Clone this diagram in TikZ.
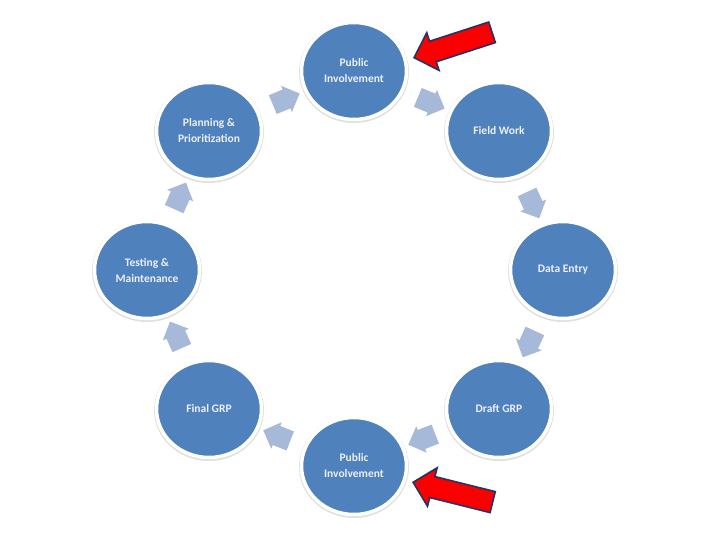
\documentclass[tikz,border=0pt]{standalone}
\usepackage{fontspec}
\setmainfont{Carlito}
\usepackage{xcolor}
\usetikzlibrary{calc,shapes.geometric,shapes.arrows}
\definecolor{stageblue}{RGB}{79,129,189}
\definecolor{stagetext}{RGB}{236,240,247}
\definecolor{flowgray}{RGB}{167,185,216}
\definecolor{alertred}{RGB}{250,0,0}
\definecolor{alertnavy}{RGB}{38,52,96}
\tikzset{
  stage/.style={ellipse,fill=stageblue,draw=white,line width=3.5pt,
    minimum width=105pt,minimum height=97pt,inner sep=0pt,align=center,
    text=stagetext,font=\fontsize{11.5}{16}\selectfont\bfseries,
    preaction={draw=black!12,line width=5pt,transform canvas={yshift=-1pt}}},
  flow/.style={single arrow,fill=flowgray,draw=none,inner xsep=0pt,
    inner ysep=10pt,minimum height=29pt,single arrow head extend=4pt},
  pointer/.style={single arrow,fill=alertred,draw=alertnavy,line width=1.6pt,
    inner xsep=0pt,inner ysep=10pt,minimum height=82pt,
    single arrow head extend=9pt}
}
\begin{document}
\begin{tikzpicture}[x=1pt,y=-1pt]
  \useasboundingbox[fill=white] (0,0) rectangle (720,540);
  % the eight stages of the cycle
  \node[stage] (pubtop) at (354,71) {Public\\Involvement};
  \node[stage] (field) at (499,131) {Field Work};
  \node[stage] (entry) at (563,270) {Data Entry};
  \node[stage] (draft) at (499,409) {Draft GRP};
  \node[stage] (pubbot) at (354,466) {Public\\Involvement};
  \node[stage] (final) at (209,409) {Final GRP};
  \node[stage] (testing) at (147,270) {Testing \&\\Maintenance};
  \node[stage] (planning) at (209,131) {Planning \&\\Prioritization};
  % flow chevrons between neighbours
  \foreach \a/\b in {planning/pubtop,pubtop/field,field/entry,entry/draft,
      draft/pubbot,pubbot/final,final/testing,testing/planning}
    \path let \p1=($(\b)-(\a)$) in
      node[flow,rotate={atan2(\y1,\x1)}] (flow-\a) at ($(\a)!0.5!(\b)$) {};
  % red pointers
  \node[pointer,rotate=198,anchor=tip] (ptrtop) at (413,58) {};
  \node[pointer,rotate=166,anchor=tip] (ptrbot) at (412,482) {};
\end{tikzpicture}
\end{document}
